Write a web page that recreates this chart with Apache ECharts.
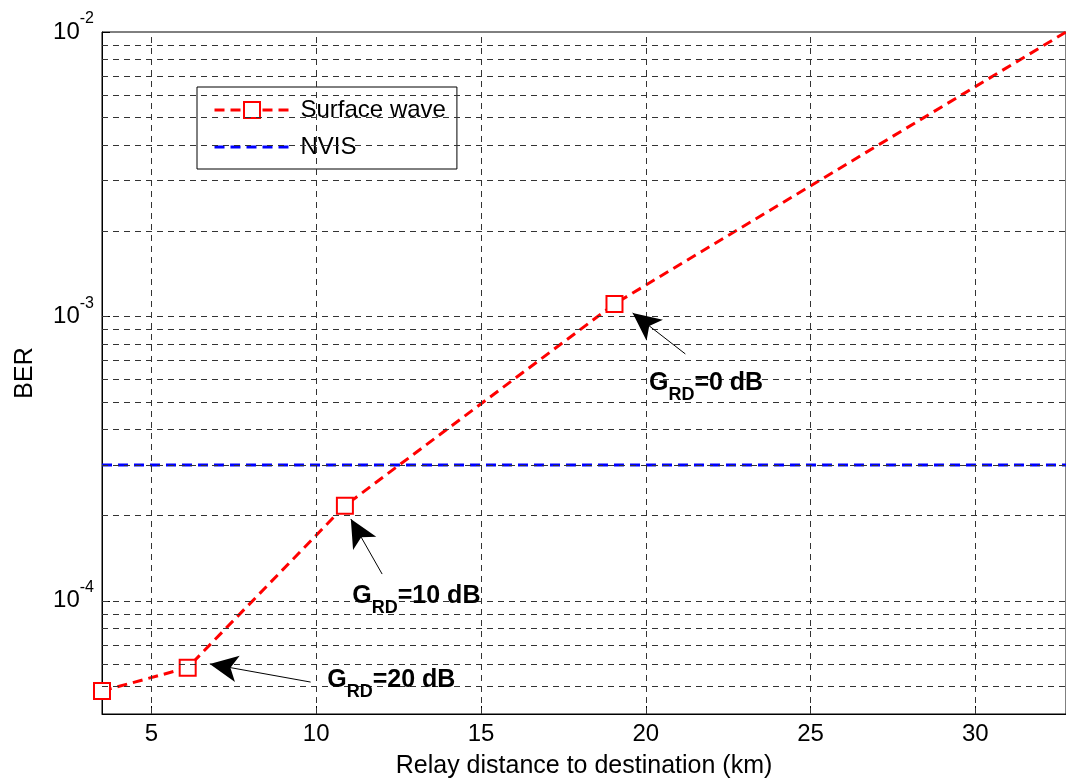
<!DOCTYPE html>
<html>
<head>
<meta charset="utf-8">
<script src="https://cdn.jsdelivr.net/npm/echarts@6/dist/echarts.min.js"></script>
<style>
html,body{margin:0;padding:0;background:#fff;overflow:hidden;}
#chart{width:1066px;height:784px;}
</style>
</head>
<body>
<div id="chart"></div>
<script>
// ---- data ----
const surfaceX = [3.5, 6.1, 10.87, 19.05, 32.75];
const surfaceBER = [4.82e-5, 5.82e-5, 2.16e-4, 1.106e-3, 1.0e-2];
const nvisX = [3.5, 32.75];
const nvisBER = [3.0e-4, 3.0e-4];
const xTicks = [5, 10, 15, 20, 25, 30];
const yGridValues = [
  5e-5, 6e-5, 7e-5, 8e-5, 9e-5,
  1e-4, 2e-4, 3e-4, 4e-4, 5e-4, 6e-4, 7e-4, 8e-4, 9e-4,
  1e-3, 2e-3, 3e-3, 4e-3, 5e-3, 6e-3, 7e-3, 8e-3, 9e-3
];
const X_MIN = 3.5, X_MAX = 32.75, Y_MIN = 4e-5, Y_MAX = 1e-2;
const annotLabels = ['0 dB', '10 dB', '20 dB'];
const annotTextPos = [[20.08, 5.81e-4], [11.08, 1.035e-4], [10.32, 5.26e-5]];
const arrowTail = [[21.2, 7.38e-4], [12.0, 1.242e-4], [9.83, 5.18e-5]];
const arrowTip = [[19.6, 1.028e-3], [11.05, 1.94e-4], [6.77, 6.0e-5]];

const FONT = '"Liberation Sans", Arial, Helvetica, sans-serif';
const chart = echarts.init(document.getElementById('chart'));

const gridLineStyle = { color: '#333', width: 1, type: [6, 5] };

const gridLineData = yGridValues.map(v => [{ coord: [X_MIN, v] }, { coord: [X_MAX, v] }])
  .concat(xTicks.map(v => [{ coord: [v, Y_MIN] }, { coord: [v, Y_MAX] }]));

const option = {
  animation: false,
  backgroundColor: '#fff',
  textStyle: { fontFamily: FONT },
  grid: {
    left: 102, top: 32, right: -1, bottom: 70,
    show: true, borderColor: '#000', borderWidth: 1, backgroundColor: 'transparent'
  },
  legend: {
    orient: 'vertical',
    left: 197, top: 87,
    backgroundColor: '#fff',
    borderColor: '#000', borderWidth: 1, borderRadius: 0,
    padding: [11, 11, 10, 16],
    itemWidth: 75, itemHeight: 20, itemGap: 13,
    lineStyle: { width: 3 },
    data: [
      { name: 'Surface wave' },
      { name: 'NVIS', itemStyle: { opacity: 0 } }
    ],
    textStyle: { fontFamily: FONT, fontSize: 24, color: '#000', lineHeight: 24, padding: [0, 0, 0, 6] }
  },
  xAxis: {
    type: 'value',
    min: X_MIN, max: X_MAX,
    name: 'Relay distance to destination (km)',
    nameLocation: 'middle', nameGap: 40,
    nameTextStyle: { fontFamily: FONT, fontSize: 25, color: '#000' },
    axisLine: { show: true, lineStyle: { color: '#000', width: 1 } },
    axisTick: { show: true, inside: true, length: 8, customValues: xTicks, lineStyle: { color: '#000' } },
    axisLabel: {
      customValues: xTicks,
      fontFamily: FONT, fontSize: 24, color: '#000', margin: 8,
      formatter: function (v) { return (Math.abs(v % 5) < 1e-9) ? String(v) : ''; }
    },
    splitLine: { show: false }
  },
  yAxis: {
    type: 'log', logBase: 10,
    min: Y_MIN, max: Y_MAX,
    name: 'BER',
    nameLocation: 'middle', nameGap: 64,
    nameTextStyle: { fontFamily: FONT, fontSize: 25, color: '#000' },
    axisLine: { show: true, lineStyle: { color: '#000', width: 1 } },
    axisTick: { show: true, inside: true, length: 8, lineStyle: { color: '#000' } },
    axisLabel: {
      fontFamily: FONT, color: '#000', margin: 8,
      formatter: function (v) {
        const e = Math.round(Math.log10(v));
        if (Math.abs(v - Math.pow(10, e)) / v < 1e-6) return '{b|10}{s|' + e + '}';
        return '';
      },
      rich: {
        b: { fontFamily: FONT, fontSize: 24, lineHeight: 24, color: '#000', verticalAlign: 'middle' },
        s: { fontFamily: FONT, fontSize: 16, lineHeight: 42, color: '#000', padding: [0, 0, 26, 0], verticalAlign: 'middle' }
      }
    },
    splitLine: { show: false },
    minorTick: { show: false }
  },
  series: [
    {
      name: 'gridlines',
      type: 'line',
      data: [],
      z: 1,
      silent: true,
      markLine: {
        silent: true,
        symbol: ['none', 'none'],
        label: { show: false },
        lineStyle: gridLineStyle,
        emphasis: { disabled: true },
        data: gridLineData
      }
    },
    {
      name: 'NVIS',
      type: 'line',
      z: 3,
      data: nvisX.map((x, i) => [x, nvisBER[i]]),
      symbol: 'none',
      lineStyle: { color: '#0000ff', width: 3, type: [10, 6] },
      itemStyle: { color: '#0000ff' }
    },
    {
      name: 'Surface wave',
      type: 'line',
      z: 4,
      data: surfaceX.map((x, i) => (i === surfaceX.length - 1)
        ? { value: [x, surfaceBER[i]], symbol: 'none' }
        : [x, surfaceBER[i]]),
      symbol: 'emptyRect',
      symbolSize: 16,
      showAllSymbol: true,
      lineStyle: { color: '#ff0000', width: 3, type: [10, 6] },
      itemStyle: { color: '#ff0000', borderColor: '#ff0000', borderWidth: 3 }
    },
    {
      name: 'annotations',
      type: 'line',
      data: [],
      z: 5,
      silent: true,
      markLine: {
        silent: true,
        symbol: ['none', 'arrow'],
        symbolSize: [20, 28],
        label: { show: false },
        lineStyle: { color: '#000', width: 1, type: 'solid' },
        itemStyle: { color: '#000' },
        emphasis: { disabled: true },
        data: arrowTail.map((t, i) => [{ coord: t }, { coord: arrowTip[i] }])
      },
      markPoint: {
        silent: true,
        symbol: 'circle',
        symbolSize: 1,
        itemStyle: { color: 'transparent' },
        label: {
          show: true,
          position: 'right',
          distance: 0,
          color: '#000',
          rich: {
            g: { fontFamily: FONT, fontSize: 25, fontWeight: 'bold', lineHeight: 25, color: '#000', verticalAlign: 'middle' },
            s: { fontFamily: FONT, fontSize: 18, fontWeight: 'bold', lineHeight: 41, color: '#000', padding: [23, 0, 0, 0], verticalAlign: 'middle' }
          }
        },
        data: annotTextPos.map((p, i) => ({
          coord: p,
          value: annotLabels[i],
          label: { formatter: '{g|G}{s|RD}{g|=' + annotLabels[i] + '}' }
        }))
      }
    }
  ]
};
chart.setOption(option);
</script>
</body>
</html>
